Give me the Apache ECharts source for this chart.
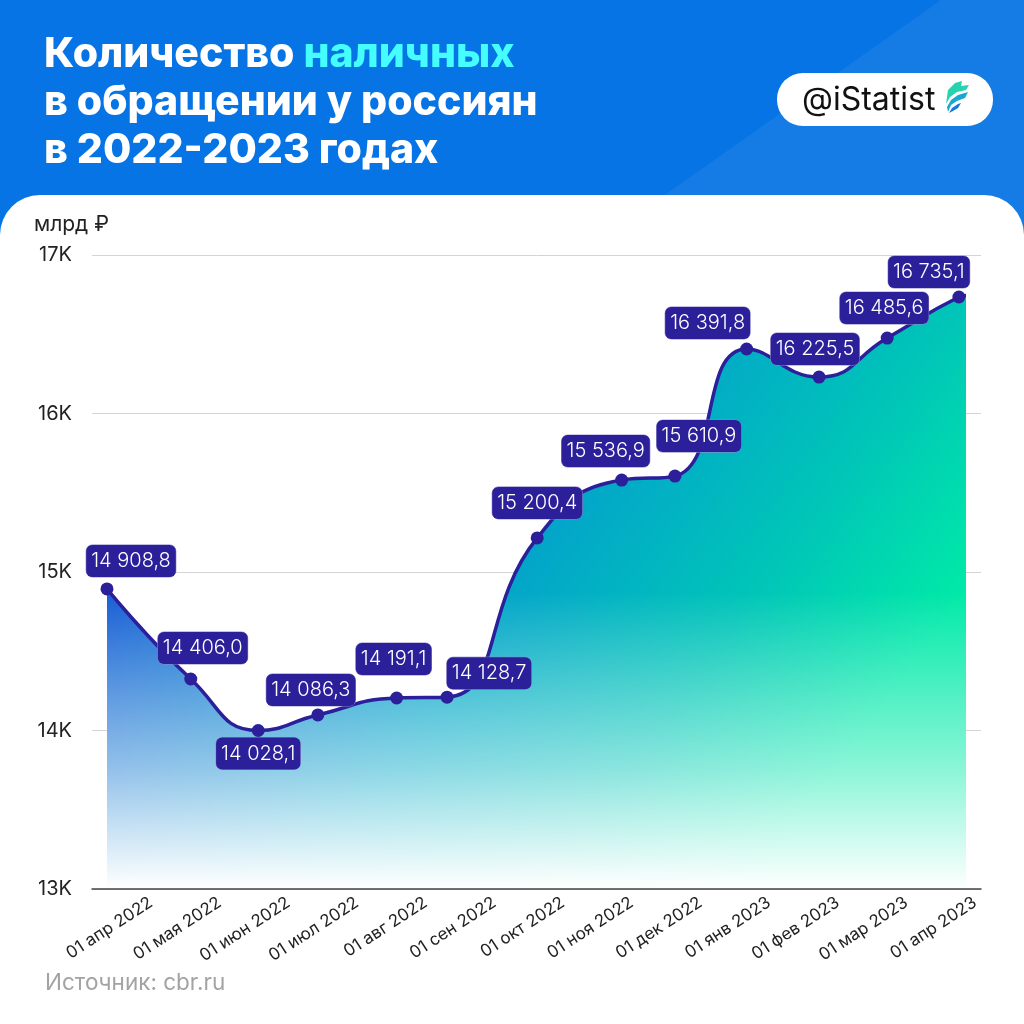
<!DOCTYPE html>
<html>
<head>
<meta charset="utf-8">
<style>
    html, body { margin: 0; padding: 0; background: #fff; }
    #chart { width: 1024px; height: 1024px; }
</style>
<script src="https://cdn.jsdelivr.net/npm/echarts@6/dist/echarts.min.js"></script>
</head>
<body>
<div id="chart"></div>
<script>
// tick labels under the axis
var monthLabels = ['01 апр 2022', '01 мая 2022', '01 июн 2022', '01 июл 2022', '01 авг 2022', '01 сен 2022', '01 окт 2022',
    '01 ноя 2022', '01 дек 2022', '01 янв 2023', '01 фев 2023', '01 мар 2023', '01 апр 2023'];

var yTicks = [13000, 14000, 15000, 16000, 17000];

// where the marks really sit in the picture: months since apr 2022 and level
var pointMonths = [0, 1.18, 2.13, 2.97, 4.08, 4.79, 6.06, 7.25, 8.0, 9.01, 10.03, 10.99, 12, 12.1];
var pointValues = [14893, 14325, 14000, 14098, 14205, 14210, 15215, 15580, 15605, 16407, 16230, 16476, 16735, 16745];

// the numbers printed on the badges
var valueTexts = ['14 908,8', '14 406,0', '14 028,1', '14 086,3', '14 191,1', '14 128,7', '15 200,4',
    '15 536,9', '15 610,9', '16 391,8', '16 225,5', '16 485,6', '16 735,1'];

// badge offset from its point
var badgeOffsets = [[24, -28], [12, -31], [0, 23], [-7, -25], [-3, -39], [42, -24], [0, -35],
    [-16, -29], [24, -40], [-39, -26], [-4, -28], [-3, -30], [-30, -25]];

var FONT = 'Inter';
var INK = '#2c1f9a';

var linePoints = [];
for (var i = 0; i < pointMonths.length; i++) {
    var item = { value: [pointMonths[i], pointValues[i]] };
    if (i < valueTexts.length) {
        item.label = { show: true, position: 'inside', offset: badgeOffsets[i], formatter: valueTexts[i] };
    } else {
        item.symbol = 'none';
    }
    linePoints.push(item);
}

var myChart = echarts.init(document.getElementById('chart'), null, { renderer: 'canvas' });

var option = {
    animation: false,
    backgroundColor: '#fff',
    textStyle: { fontFamily: FONT },
    title: {
        left: 39,
        top: 26,
        text: '{w|Количество }{c|наличных}\n{w|в обращении у россиян}\n{w|в 2022-2023 годах}',
        textStyle: {
            rich: {
                w: { fontFamily: FONT, fontWeight: 800, fontSize: 41, lineHeight: 48, color: '#fff' },
                c: { fontFamily: FONT, fontWeight: 800, fontSize: 41, lineHeight: 48, color: '#45fdfd' }
            }
        }
    },
    grid: [
        { left: 92, right: 43, top: 255, height: 634 },
        { left: 107, right: 58, top: 255, height: 634 },
        { left: 151, right: 49, top: 255, height: 634 }
    ],
    xAxis: [
        { type: 'value', gridIndex: 0, min: 0, max: 1, z: 5, axisLine: { lineStyle: { color: '#444', width: 1.5 } },
            axisTick: { show: false }, axisLabel: { show: false }, splitLine: { show: false } },
        { type: 'value', gridIndex: 1, min: 0, max: 12.1, show: false },
        { type: 'category', gridIndex: 2, data: monthLabels, boundaryGap: false,
            axisLine: { show: false }, axisTick: { show: false },
            axisLabel: { interval: 0, rotate: 33, margin: 12, color: '#222', fontSize: 17, fontFamily: FONT } }
    ],
    yAxis: [
        { type: 'value', gridIndex: 0, min: 13000, max: 17000, interval: 1000,
            axisLine: { show: false }, axisTick: { show: false },
            axisLabel: { margin: 20, color: '#222', fontSize: 20, fontFamily: FONT,
                formatter: function(v) { return yTicks.indexOf(v) >= 0 ? (v / 1000) + 'K' : ''; } },
            splitLine: { lineStyle: { color: '#d4d4d4', width: 1 } } },
        { type: 'value', gridIndex: 1, min: 13000, max: 17000, show: false },
        { type: 'value', gridIndex: 2, min: 13000, max: 17000, show: false }
    ],
    series: [
        {
            type: 'line', xAxisIndex: 1, yAxisIndex: 1, data: linePoints, smooth: 0.5,
            showSymbol: false, lineStyle: { width: 0 }, z: 2,
            areaStyle: {
                opacity: 1,
                color: new echarts.graphic.LinearGradient(0, 0.5, 0.656, 1.188, [
                    { offset: 0, color: '#1a5dd6' },
                    { offset: 0.47, color: '#03a6c9' },
                    { offset: 0.75, color: '#00c5b8' },
                    { offset: 1, color: '#00eaa8' }
                ])
            }
        },
        {
            type: 'line', xAxisIndex: 1, yAxisIndex: 1, data: linePoints, smooth: 0.5,
            symbol: 'circle', symbolSize: 13, showAllSymbol: true, z: 3,
            itemStyle: { color: INK },
            lineStyle: { color: INK, width: 3.5 },
            label: {
                color: '#fff', fontFamily: FONT, fontSize: 20, fontWeight: 300, backgroundColor: INK,
                borderColor: '#8f88c8', borderWidth: 0.5, borderRadius: 6, padding: [6, 5, 6, 5]
            },
            areaStyle: {
                opacity: 1,
                color: new echarts.graphic.LinearGradient(0, 0, 0, 1, [
                    { offset: 0, color: 'rgba(255,255,255,0)' },
                    { offset: 0.5, color: 'rgba(255,255,255,0)' },
                    { offset: 0.8, color: 'rgba(255,255,255,0.55)' },
                    { offset: 1, color: 'rgba(255,255,255,1)' }
                ])
            }
        }
    ],
    graphic: [
        { type: 'rect', z: -10, shape: { x: 0, y: 0, width: 1024, height: 240 }, style: { fill: '#0674e4' } },
        { type: 'polygon', z: -9, shape: { points: [[941, 0], [1024, 0], [1024, 240], [601, 240]] }, style: { fill: '#157ce6' } },
        { type: 'rect', z: -8, shape: { x: 0, y: 195, width: 1024, height: 829, r: [40, 40, 0, 0] }, style: { fill: '#fff' } },
        { type: 'rect', z: 5, shape: { x: 777, y: 73, width: 216, height: 53, r: 26 }, style: { fill: '#fff' } },
        { type: 'text', z: 6, x: 802, y: 100, style: { text: '@iStatist', fontFamily: FONT, fontSize: 32, fill: '#111', textVerticalAlign: 'middle' } },
        { type: 'polygon', z: 6, shape: { points: [[948, 90], [955, 83], [962, 81], [961, 86], [969, 85], [966, 90], [957, 92], [950, 97], [946, 104]] }, style: { fill: '#27d3ae' } },
        { type: 'polygon', z: 6, shape: { points: [[947, 107], [951, 100], [958, 95], [968, 92], [965, 98], [957, 101], [951, 105], [948, 112]] }, style: { fill: '#1aa8cf' } },
        { type: 'polygon', z: 6, shape: { points: [[949, 113], [952, 108], [958, 104], [961, 103], [958, 108], [953, 111]] }, style: { fill: '#1677e0' } },
        { type: 'text', z: 6, x: 34, y: 225, style: { text: 'млрд ₽', fontFamily: FONT, fontSize: 21, fill: '#222', textVerticalAlign: 'middle' } },
        { type: 'text', z: 6, x: 45, y: 983, style: { text: 'Источник: cbr.ru', fontFamily: FONT, fontSize: 22.5, fill: '#a3a3a3', textVerticalAlign: 'middle' } }
    ]
};

myChart.setOption(option);
</script>
</body>
</html>
